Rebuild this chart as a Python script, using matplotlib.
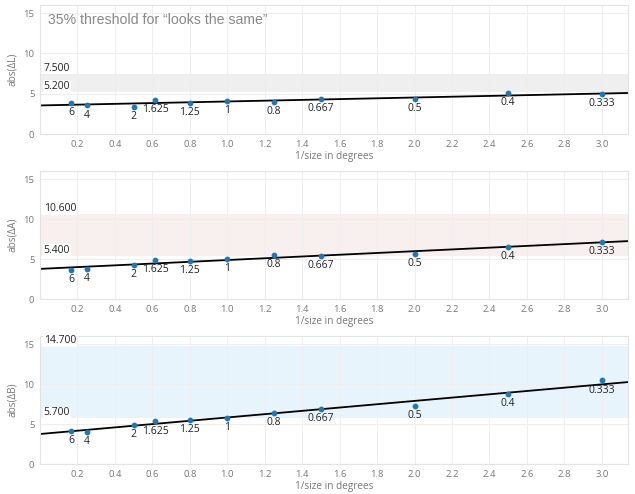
import numpy as np
import matplotlib
matplotlib.use('Agg')
import matplotlib.pyplot as plt

# stimulus size in degrees and 1/size on x
sizes=['6','4','2','1.625','1.25','1','0.8','0.667','0.5','0.4','0.333']
inv_size=[0.1667,0.25,0.5,0.615,0.8,1.0,1.25,1.5,2.0,2.5,3.0]

# abs differences
dL=[3.90,3.56,3.40,4.19,3.90,4.15,3.94,4.31,4.31,5.06,4.98]
dA=[3.66,3.74,4.24,4.91,4.78,5.03,5.53,5.37,5.62,6.49,7.11]
dB=[4.17,4.04,4.84,5.33,5.50,5.80,6.43,6.85,7.23,8.73,10.45]

# "looks the same" bands (low, high)
band_L=[5.2,7.5]
band_A=[5.4,10.6]
band_B=[5.7,14.7]

panels=[('abs(ΔL)',dL,band_L,'#efefef'),
        ('abs(ΔA)',dA,band_A,'#f8efef'),
        ('abs(ΔB)',dB,band_B,'#e8f4fc')]

plt.rcParams['font.family']=['Open Sans','DejaVu Sans']

fig=plt.figure(figsize=(6.35,4.94),dpi=100)
boxes=[[0.063,0.7287,0.926,0.261],[0.063,0.3947,0.926,0.259],[0.063,0.0607,0.926,0.259]]
x=np.array(inv_size)
for (label,vals,band,col),box in zip(panels,boxes):
    ax=fig.add_axes(box)
    ax.set_xlim(0,3.14)
    ax.set_ylim(0,16)
    ax.axhspan(band[0],band[1],color=col,lw=0,zorder=0)
    for v in band:
        ax.text(0.006,v,'%.3f'%v,transform=ax.get_yaxis_transform(),va='bottom',ha='left',
                fontsize=7.5,color='#222222',zorder=3,
                bbox=dict(facecolor='white',edgecolor='none',pad=0.5))
    p=np.polyfit(x,vals,1)
    xl=np.array([0,3.14])
    ax.plot(xl,np.polyval(p,xl),color='black',lw=1.3,zorder=2)
    ax.scatter(x,vals,s=10,color='#1f77b4',zorder=4)
    for xi,yi,s in zip(x,vals,sizes):
        ax.annotate(s,(xi,yi),xytext=(0,-3),textcoords='offset points',ha='center',va='top',
                    fontsize=7.5,color='#222222')
    ax.set_xticks(np.arange(0.2,3.01,0.2))
    ax.set_xticklabels(['%.1f'%t for t in np.arange(0.2,3.01,0.2)])
    ax.set_yticks([0,5,10,15])
    ax.grid(True,color='#eeeeee',lw=0.8,zorder=0)
    ax.set_axisbelow(True)
    for sp in ax.spines.values():
        sp.set_color('#e3e3e3')
        sp.set_linewidth(0.8)
    ax.tick_params(length=0,labelsize=6.8,colors='#777777',pad=4)
    ax.set_ylabel(label,fontsize=7.2,color='#777777',labelpad=4)
    ax.set_xlabel('1/size in degrees',fontsize=7.2,color='#777777',labelpad=2)
    if label=='abs(ΔL)':
        ax.text(0.014,14.1,'35% threshold for \u201clooks the same\u201d',transform=ax.get_yaxis_transform(),
                va='center',ha='left',fontsize=10.2,color='#888888',family='Liberation Sans')

plt.savefig('out.png',dpi=100)
